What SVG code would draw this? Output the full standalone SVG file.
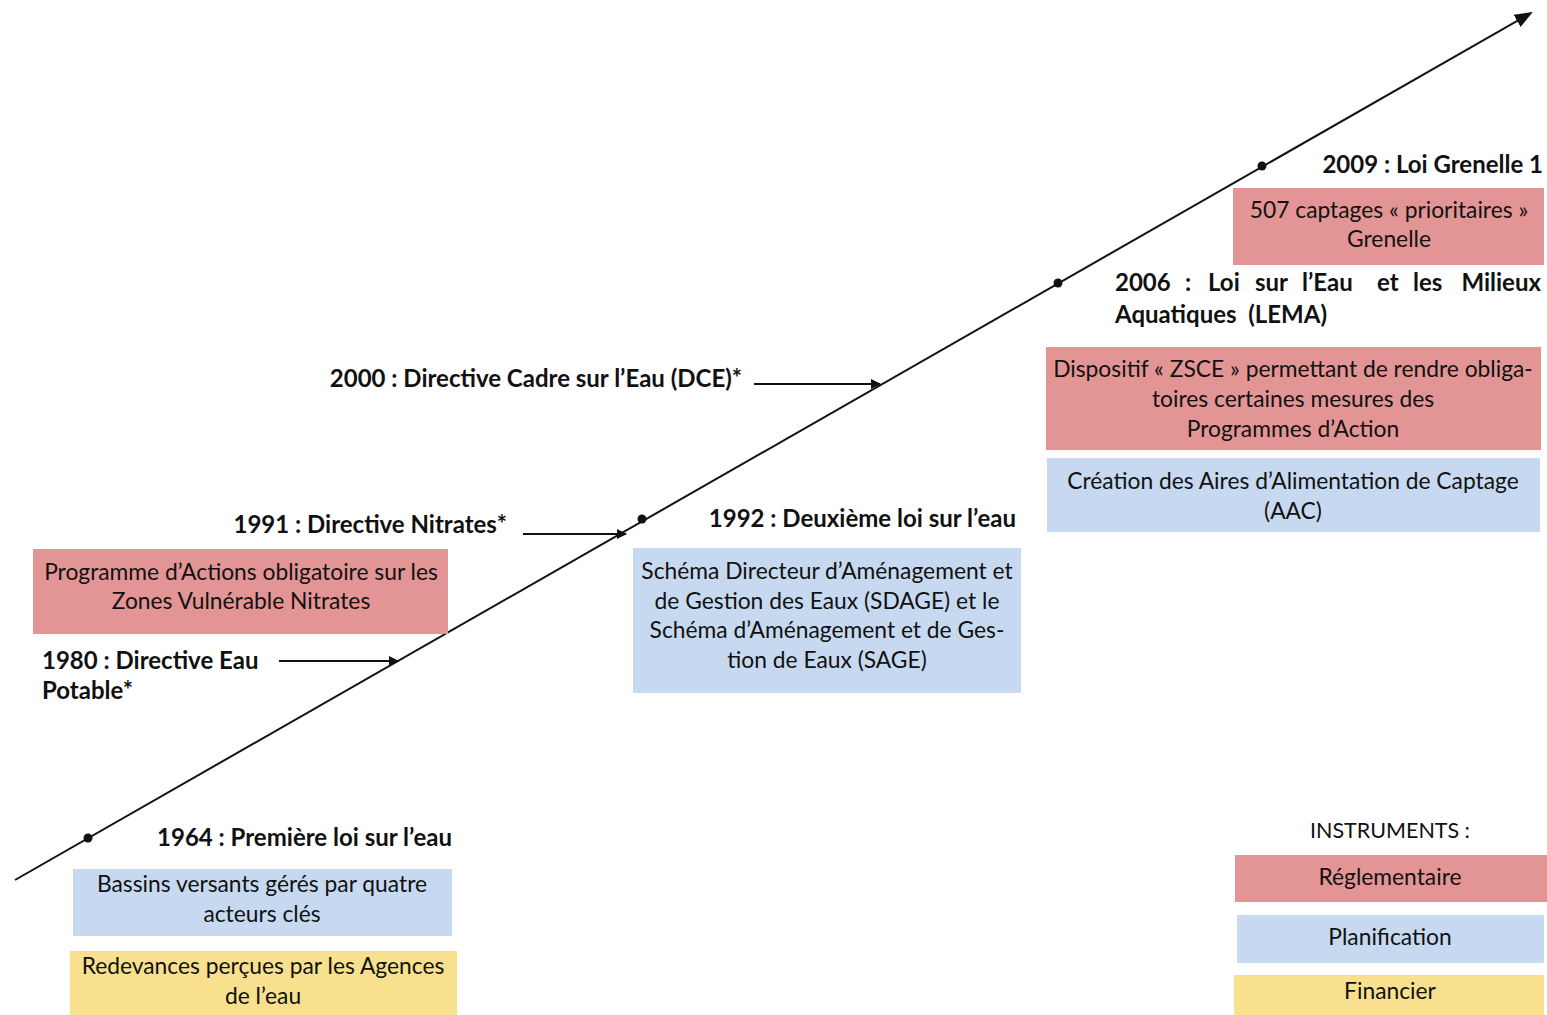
<svg xmlns="http://www.w3.org/2000/svg" width="1547" height="1015" viewBox="0 0 1547 1015">
<style>
text{font-family:Lato,"Open Sans","Liberation Sans",sans-serif;fill:#111}
.h{font-size:24px;font-weight:bold}
.b{font-size:22.8px;text-anchor:middle}
.red{fill:#E39595}
.blue{fill:#C6D9F0}
.yel{fill:#F8E08E}
.ln{stroke:#111;stroke-width:2;fill:none}
</style>
<defs>
<marker id="ah" markerWidth="10" markerHeight="10" refX="9" refY="5" orient="auto" markerUnits="userSpaceOnUse"><path d="M0,0 L10,5 L0,10 z" fill="#111"/></marker>
<marker id="ahb" markerWidth="18" markerHeight="14" refX="16" refY="7" orient="auto" markerUnits="userSpaceOnUse"><path d="M0,0 L18,7 L0,14 z" fill="#111"/></marker>
</defs>
<g id="connectors">
<line class="ln" x1="15" y1="880" x2="1531" y2="13" marker-end="url(#ahb)"/>
<line class="ln" x1="279" y1="661" x2="398" y2="661" marker-end="url(#ah)"/>
<line class="ln" x1="523" y1="534" x2="626" y2="534" marker-end="url(#ah)"/>
<line class="ln" x1="754" y1="384" x2="880" y2="384" marker-end="url(#ah)"/>
<circle cx="88" cy="838" r="4.5" fill="#111"/>
<circle cx="642" cy="519" r="4.5" fill="#111"/>
<circle cx="1058" cy="283" r="4.5" fill="#111"/>
<circle cx="1262" cy="166" r="4.5" fill="#111"/>
</g>
<g id="n2009">
<text class="h" x="1543" y="173" text-anchor="end">2009 : Loi Grenelle 1</text>
<rect class="red" x="1233" y="188" width="311" height="77"/>
<text class="b" x="1389" y="218">507 captages « prioritaires »</text>
<text class="b" x="1389" y="247">Grenelle</text>
</g>
<g id="n2006">
<text class="h" x="1115" y="291">2006</text>
<text class="h" x="1185" y="291">:</text>
<text class="h" x="1208" y="291">Loi</text>
<text class="h" x="1255" y="291">sur</text>
<text class="h" x="1302" y="291">l’Eau</text>
<text class="h" x="1377" y="291">et</text>
<text class="h" x="1413" y="291">les</text>
<text class="h" x="1541" y="291" text-anchor="end">Milieux</text>
<text class="h" x="1115" y="323" xml:space="preserve">Aquatiques  (LEMA)</text>
<rect class="red" x="1046" y="347" width="495" height="103"/>
<text class="b" x="1293" y="377">Dispositif « ZSCE » permettant de rendre obliga-</text>
<text class="b" x="1293" y="407">toires certaines mesures des</text>
<text class="b" x="1293" y="437">Programmes d’Action</text>
<rect class="blue" x="1047" y="458" width="493" height="74"/>
<text class="b" x="1293" y="489">Création des Aires d’Alimentation de Captage</text>
<text class="b" x="1293" y="519">(AAC)</text>
</g>
<g id="n2000">
<text class="h" x="742" y="387" text-anchor="end">2000 : Directive Cadre sur l’Eau (DCE)*</text>
</g>
<g id="n1991">
<text class="h" x="507" y="533" text-anchor="end">1991 : Directive Nitrates*</text>
<rect class="red" x="33" y="549" width="415" height="85"/>
<text class="b" x="241" y="580">Programme d’Actions obligatoire sur les</text>
<text class="b" x="241" y="609">Zones Vulnérable Nitrates</text>
</g>
<g id="n1980">
<text class="h" x="42" y="669">1980 : Directive Eau</text>
<text class="h" x="42" y="699">Potable*</text>
</g>
<g id="n1992">
<text class="h" x="1016" y="527" text-anchor="end">1992 : Deuxième loi sur l’eau</text>
<rect class="blue" x="633" y="548" width="388" height="145"/>
<text class="b" x="827" y="579">Schéma Directeur d’Aménagement et</text>
<text class="b" x="827" y="609">de Gestion des Eaux (SDAGE) et le</text>
<text class="b" x="827" y="638">Schéma d’Aménagement et de Ges-</text>
<text class="b" x="827" y="668">tion de Eaux (SAGE)</text>
</g>
<g id="n1964">
<text class="h" x="452" y="846" text-anchor="end">1964 : Première loi sur l’eau</text>
<rect class="blue" x="73" y="869" width="379" height="67"/>
<text class="b" x="262" y="892">Bassins versants gérés par quatre</text>
<text class="b" x="262" y="922">acteurs clés</text>
<rect class="yel" x="70" y="951" width="387" height="64"/>
<text class="b" x="263" y="974">Redevances perçues par les Agences</text>
<text class="b" x="263" y="1004">de l’eau</text>
</g>
<g id="legend">
<text class="b" x="1390" y="838" style="font-size:21.5px">INSTRUMENTS :</text>
<rect class="red" x="1235" y="855" width="312" height="47"/>
<text class="b" x="1390" y="885">Réglementaire</text>
<rect class="blue" x="1237" y="915" width="307" height="48"/>
<text class="b" x="1390" y="945">Planification</text>
<rect class="yel" x="1234" y="975" width="310" height="40"/>
<text class="b" x="1390" y="999">Financier</text>
</g>
</svg>
